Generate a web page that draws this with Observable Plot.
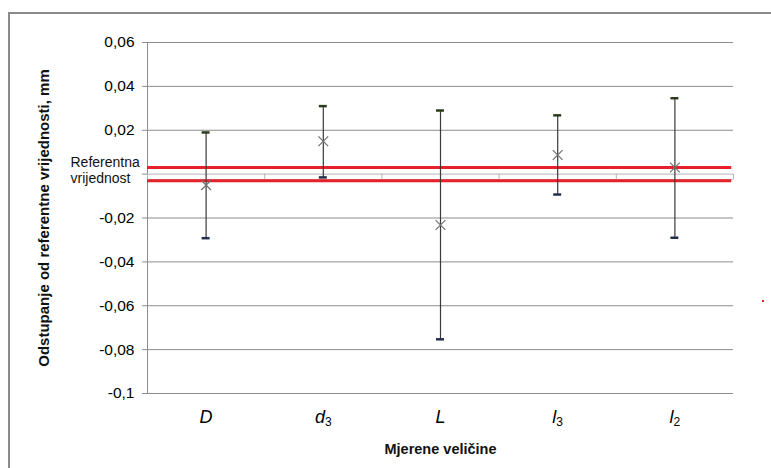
<!DOCTYPE html>
<html>
<head>
<meta charset="utf-8">
<script src="https://cdn.jsdelivr.net/npm/d3@7"></script>
<script src="https://cdn.jsdelivr.net/npm/@observablehq/plot@0.6"></script>
<style>
  html, body { margin: 0; padding: 0; background: #fff; }
  #wrap { position: relative; width: 771px; height: 468px; overflow: hidden; }
  #wrap svg { display: block; }
  #frame { position: absolute; left: 8px; top: 12px; width: 800px; height: 500px; z-index: 2;
           border-left: 2px solid #8a8a8a; border-top: 2px solid #8a8a8a; pointer-events: none; }
  #dot { position: absolute; left: 762px; top: 300px; width: 2px; height: 2px; background: #e8202a; }
  svg text { font-family: "Liberation Sans", Arial, sans-serif; }
</style>
</head>
<body>
<div id="wrap"><div id="frame"></div><div id="dot"></div></div>
<script>
const categories = ["D", "d3", "L", "l3", "l2"];
const labelBase = ["D", "d", "L", "l", "l"];
const labelSub = ["", "3", "", "3", "2"];
const means = [-0.005, 0.015, -0.0232, 0.0087, 0.003];
const upper = [0.019, 0.031, 0.029, 0.0268, 0.0346];
const lower = [-0.0292, -0.0015, -0.0753, -0.0093, -0.029];
const refBand = [0.003, -0.003];
const yTicks = [0.06, 0.04, 0.02, 0, -0.02, -0.04, -0.06, -0.08, -0.1];
const yTickLabels = ["0,06", "0,04", "0,02", "", "-0,02", "-0,04", "-0,06", "-0,08", "-0,1"];
const refLabel = "Referentna\nvrijednost";
const yTitle = "Odstupanje od referentne vrijednosti, mm";
const xTitle = "Mjerene veličine";

const data = categories.map((c, i) => ({
  cat: c, x: i + 0.5, mean: means[i], hi: upper[i], lo: lower[i]
}));
const boundaries = d3.range(categories.length + 1);
const capHalf = 0.034;

const chart = Plot.plot({
  width: 771,
  height: 468,
  marginLeft: 147,
  marginRight: 38,
  marginTop: 42,
  marginBottom: 75,
  x: {domain: [0, categories.length]},
  y: {domain: [-0.1, 0.06]},
  style: {fontFamily: "Liberation Sans, Arial, sans-serif", background: "transparent"},
  marks: [
    Plot.ruleY(yTicks.filter(v => v !== 0), {stroke: "#8c8c8c", strokeOpacity: 1, strokeWidth: 1}),
    Plot.ruleX([0], {y1: -0.1, y2: 0.06, stroke: "#8c8c8c"}),
    Plot.ruleY([0, -0.0025], {stroke: "#b4b4b4"}),
    Plot.ruleX(boundaries, {y1: 0, y2: -0.0025, stroke: "#b4b4b4"}),
    Plot.ruleY(refBand, {x1: 0, x2: categories.length - 0.015, stroke: "#e8202a", strokeWidth: 3}),
    Plot.ruleX(data, {x: "x", y1: "lo", y2: "hi", stroke: "#3a3a3a", strokeWidth: 1.2}),
    Plot.ruleY(data, {y: "hi", x1: d => d.x - capHalf, x2: d => d.x + capHalf, stroke: "#2d3a1e", strokeWidth: 2.5}),
    Plot.ruleY(data, {y: "lo", x1: d => d.x - capHalf, x2: d => d.x + capHalf, stroke: "#22304a", strokeWidth: 2.5}),
    Plot.dot(data, {x: "x", y: "mean", symbol: "times", r: 4.5, stroke: "#707070", strokeWidth: 1.2}),
    Plot.text([refLabel], {frameAnchor: "left", y: 0, x: 0, dx: -77, dy: -4, textAnchor: "start",
      lineAnchor: "middle", lineHeight: 1.15, fontSize: 14, fill: "#111"}),
    Plot.axisY({ticks: yTicks, tickFormat: (d) => yTickLabels[yTicks.indexOf(d)], tickSize: 5,
      tickPadding: 8, fontSize: 15.5, label: null, stroke: "#8c8c8c"}),
    Plot.axisX({ticks: data.map(d => d.x), tickFormat: (d) => categories[Math.round(d - 0.5)],
      tickSize: 0, tickPadding: 17, fontSize: 18, label: null}),
    Plot.text([yTitle], {frameAnchor: "left", dx: -103, rotate: -90, textAnchor: "middle",
      fontSize: 15, fontWeight: "bold", fill: "#111"}),
    Plot.text([xTitle], {frameAnchor: "bottom", dy: 60, textAnchor: "middle", fontSize: 14.5, fontWeight: "bold", fill: "#111"})
  ]
});

// italic tick labels with subscripts
d3.select(chart).selectAll('g[aria-label="x-axis tick label"] text').each(function(d, i) {
  const t = d3.select(this);
  t.text(null).attr("font-style", "italic");
  t.append("tspan").text(labelBase[i]);
  if (labelSub[i]) t.append("tspan").attr("font-style", "normal").attr("font-size", 12).attr("dy", "0.25em").text(labelSub[i]);
});

document.getElementById("wrap").prepend(chart);
</script>
</body>
</html>
